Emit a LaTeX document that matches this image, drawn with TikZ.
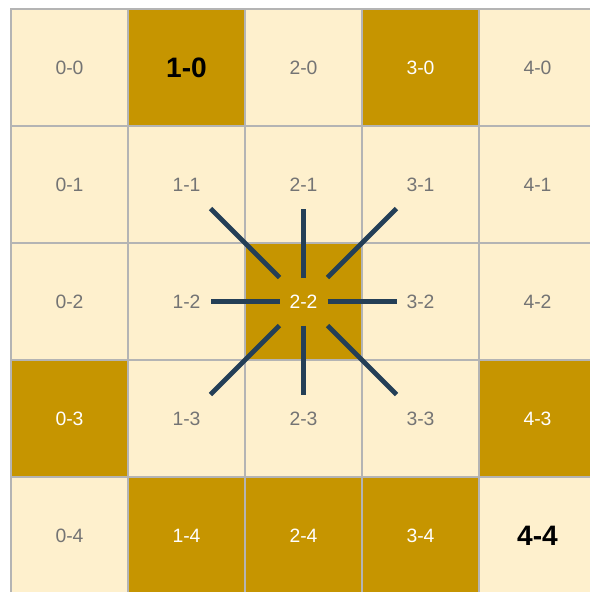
\documentclass[tikz,border=0pt]{standalone}
\usepackage{fontspec}
\setmainfont{Liberation Sans}
\usetikzlibrary{calc}
\definecolor{cream}{HTML}{FEF0CD}
\definecolor{gold}{HTML}{C69500}
\definecolor{gridgray}{HTML}{B4B4B4}
\definecolor{labelgray}{HTML}{747474}
\definecolor{raynavy}{HTML}{243F57}

\begin{document}
\begin{tikzpicture}[x=0.02cm, y=-0.02cm,
  cell/.style={draw=gridgray, line width=0.85pt, minimum size=2.34cm, inner sep=0pt, outer sep=0pt, font=\fontsize{11}{13}\selectfont},
  light/.style={cell, fill=cream, text=labelgray},
  dark/.style={cell, fill=gold, text=white},
  lightbig/.style={light, text=black, font=\fontsize{16}{18}\selectfont\bfseries},
  darkbig/.style={dark, text=black, font=\fontsize{16}{18}\selectfont\bfseries},
  ray/.style={draw=raynavy, line width=2.7pt}]
  \useasboundingbox (0,0) rectangle (590,592);
  \clip (0,0) rectangle (590,592);
  % board, row by row
  \foreach \s [count=\k from 0] in {light,darkbig,light,dark,light,
                                   light,light,light,light,light,
                                   light,light,dark,light,light,
                                   dark,light,light,light,dark,
                                   light,dark,dark,dark,lightbig} {
    \pgfmathtruncatemacro{\i}{mod(\k,5)}
    \pgfmathtruncatemacro{\j}{div(\k,5)}
    \node[\s] (c\i\j) at (69.5+117*\i, 67.5+117*\j) {\i-\j};
  }
  % rays around 2-2
  \foreach \dx/\dy in {-1/-1,0/-1,1/-1,-1/0,1/0,-1/1,0/1,1/1}
    \draw[ray] ($(c22)+(\dx*24,\dy*24)$) -- ($(c22)+(\dx*93,\dy*93)$);
\end{tikzpicture}
\end{document}
